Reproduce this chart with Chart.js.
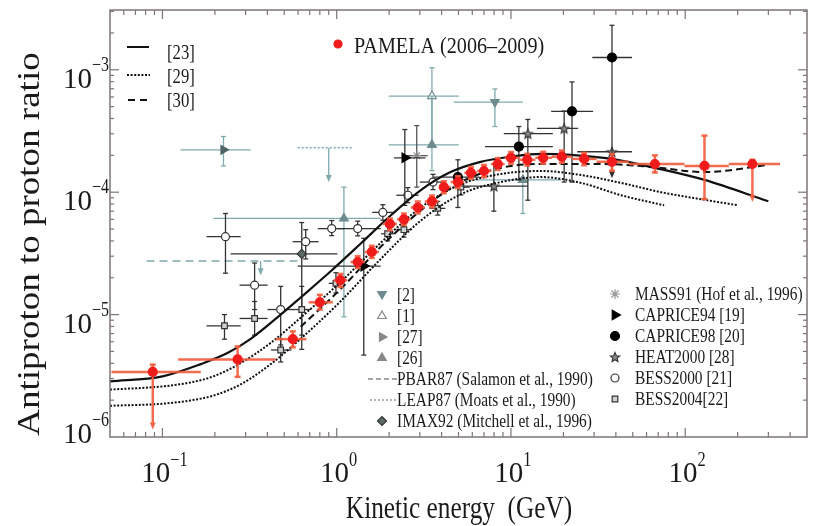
<!DOCTYPE html>
<html>
<head>
<meta charset="utf-8">
<script src="https://cdn.jsdelivr.net/npm/chart.js@4.4.1/dist/chart.umd.min.js"></script>
<style>
  html, body { margin: 0; padding: 0; background: #fff; }
</style>
</head>
<body>
<canvas id="chart" width="821" height="526"></canvas>
<script>
// ---- axis ranges / ticks ----
const xMin = 0.05, xMax = 500;
const yMin = 1e-6, yMax = 3.08e-3;
const xMajor = [0.1, 1, 10, 100];
const xMajorExp = ['\u22121', '0', '1', '2'];
const yMajor = [1e-6, 1e-5, 1e-4, 1e-3];
const yMajorExp = ['\u22126', '\u22125', '\u22124', '\u22123'];

// ---- PAMELA (2006-2009) ----
const pamelaE = [0.088, 0.27, 0.56, 0.80, 1.05, 1.32, 1.59, 2.02, 2.43, 2.92, 3.52, 4.12, 4.96, 5.89, 7.0, 8.4, 10.0, 12.4, 15.3, 19.6, 26.3, 38, 67, 129, 243];
const pamelaR = [3.4e-6, 4.3e-6, 6.3e-6, 1.26e-5, 1.91e-5, 2.69e-5, 3.25e-5, 5.5e-5, 6.0e-5, 7.5e-5, 8.4e-5, 1.10e-4, 1.21e-4, 1.44e-4, 1.49e-4, 1.70e-4, 1.91e-4, 1.84e-4, 1.91e-4, 1.95e-4, 1.87e-4, 1.77e-4, 1.70e-4, 1.64e-4, 1.70e-4];
const pamelaEx = [[0.051, 0.166], [0.123, 0.446], [0.446, 0.67], [0.69, 0.95], [0.96, 1.15], [1.2, 1.45], [1.45, 1.75], [1.84, 2.22], [2.22, 2.66], [2.66, 3.2], [3.2, 3.85], [3.85, 4.5], [4.5, 5.4], [5.4, 6.4], [6.4, 7.7], [7.7, 9.2], [9.2, 11.2], [11.2, 13.8], [13.8, 17.2], [17.2, 22.5], [22.5, 31], [31, 47.5], [47.5, 99], [99, 178], [178, 350]];
const pamelaRy = [[3.4e-6, 3.9e-6], [3.1e-6, 5.5e-6], [5.4e-6, 7.3e-6], [1.1e-5, 1.45e-5], [1.68e-5, 2.15e-5], [2.4e-5, 3.0e-5], [2.9e-5, 3.65e-5], [4.9e-5, 6.1e-5], [5.4e-5, 6.7e-5], [6.7e-5, 8.4e-5], [7.5e-5, 9.4e-5], [9.8e-5, 1.23e-4], [1.08e-4, 1.35e-4], [1.29e-4, 1.61e-4], [1.33e-4, 1.67e-4], [1.52e-4, 1.90e-4], [1.71e-4, 2.13e-4], [1.65e-4, 2.06e-4], [1.71e-4, 2.14e-4], [1.74e-4, 2.19e-4], [1.66e-4, 2.1e-4], [1.5e-4, 2.05e-4], [1.45e-4, 2.0e-4], [8.8e-5, 2.9e-4], [1.7e-4, 1.84e-4]];
const pamelaArrows = [[0.088, 3.4e-6, 1.15e-6], [243, 1.7e-4, 8.3e-5]];

// ---- model curves ----
const m23E = [0.05, 0.1, 0.166, 0.236, 0.321, 0.477, 0.621, 0.924, 1.37, 2.04, 3.04, 4.5, 6.7, 10, 14.9, 22, 38, 67, 129, 300];
const m23R = [2.85e-6, 3.13e-6, 3.94e-6, 4.85e-6, 6.34e-6, 1.0e-5, 1.38e-5, 2.26e-5, 3.79e-5, 6.45e-5, 1.04e-4, 1.46e-4, 1.77e-4, 1.95e-4, 2.06e-4, 2.02e-4, 1.87e-4, 1.58e-4, 1.26e-4, 8.43e-5];
const m29aE = [0.05, 0.1, 0.145, 0.196, 0.281, 0.418, 0.621, 1.05, 1.79, 3.04, 5.16, 8.76, 14.9, 25.3, 42.9, 72.8, 124, 202];
const m29aR = [2.44e-6, 2.59e-6, 2.79e-6, 3.13e-6, 4.01e-6, 5.87e-6, 9.44e-6, 1.84e-5, 3.86e-5, 7.51e-5, 1.16e-4, 1.41e-4, 1.49e-4, 1.38e-4, 1.19e-4, 1.0e-4, 8.75e-5, 7.81e-5];
const m29bE = [0.05, 0.1, 0.145, 0.196, 0.281, 0.418, 0.621, 1.05, 1.79, 3.04, 5.16, 8.76, 14.9, 25.3, 42.9, 75.7];
const m29bR = [1.80e-6, 1.87e-6, 1.99e-6, 2.18e-6, 2.69e-6, 3.94e-6, 6.34e-6, 1.28e-5, 2.85e-5, 5.87e-5, 9.63e-5, 1.21e-4, 1.33e-4, 1.19e-4, 9.44e-5, 7.81e-5];
const m30E = [0.621, 1.05, 1.79, 3.04, 5.16, 8.76, 14.9, 32.9, 63.8, 129, 300];
const m30R = [7.96e-6, 1.61e-5, 3.58e-5, 7.10e-5, 1.21e-4, 1.58e-4, 1.70e-4, 1.70e-4, 1.61e-4, 1.46e-4, 1.67e-4];

// ---- other experiments ----
const bess00E = [0.230, 0.338, 0.477, 0.664, 0.936, 1.32, 1.84, 2.56, 3.57];
const bess00R = [4.33e-5, 1.74e-5, 1.10e-5, 3.94e-5, 5.04e-5, 5.04e-5, 6.84e-5, 9.44e-5, 1.21e-4];
const bess00Ex = [[0.179, 0.281], [0.277, 0.401], [0.401, 0.566], [0.559, 0.788], [0.778, 1.10], [1.01, 1.79], [1.6, 2.1], [2.2, 2.95], [3.0, 4.2]];
const bess00Ry = [[2.18e-5, 6.7e-5], [1.10e-5, 2.64e-5], [5.65e-6, 1.70e-5], [2.85e-5, 4.94e-5], [4.42e-5, 5.87e-5], [4.4e-5, 5.8e-5], [5.9e-5, 7.9e-5], [8.2e-5, 1.09e-4], [1.05e-4, 1.4e-4]];

const bess04E = [0.227, 0.338, 0.477, 0.63, 0.99, 1.96, 2.43, 3.80, 5.16];
const bess04R = [8.1e-6, 9.3e-6, 5.14e-6, 1.10e-5, 1.80e-5, 4.58e-5, 4.94e-5, 7.38e-5, 1.10e-4];
const bess04Ex = [[0.179, 0.281], [0.277, 0.401], [0.42, 0.55], [0.56, 0.71], [0.9, 1.1], [1.8, 2.15], [2.2, 2.7], [3.4, 4.2], [4.6, 5.8]];
const bess04Ry = [[6.3e-6, 1.0e-5], [6.8e-6, 1.28e-5], [4.1e-6, 6.3e-6], [6.8e-6, 1.70e-5], [1.5e-5, 2.2e-5], [4.0e-5, 5.3e-5], [4.3e-5, 5.7e-5], [6.5e-5, 8.4e-5], [9.5e-5, 1.27e-4]];

const imaxE = [0.63], imaxR = [3.13e-5], imaxEx = [[0.246, 1.01]], imaxRy = [[5.2e-6, 5.65e-5]];

const cap94E = [1.43, 2.46], cap94R = [2.49e-5, 1.91e-4];
const cap94Ex = [[0.597, 1.79], [2.13, 3.24]], cap94Ry = [[4.67e-6, 4.2e-5], [7.8e-5, 3.25e-4]];

const cap98E = [4.96, 11.1, 22.4, 38.0], cap98R = [1.33e-4, 2.36e-4, 4.58e-4, 1.26e-3];
const cap98Ex = [[3.6, 6.6], [7.1, 17.4], [17.0, 29.6], [29.3, 49.5]];
const cap98Ry = [[7.5e-5, 1.84e-4], [1.26e-4, 3.44e-4], [1.21e-4, 7.96e-4], [1.74e-4, 2.31e-3]];

const heatE = [7.98, 12.5, 20.2, 38], heatR = [1.12e-4, 3.01e-4, 3.32e-4, 2.14e-4];
const heatEx = [[5.2, 12.5], [9.1, 17.4], [14.1, 24.3], [24, 49.5]];
const heatRy = [[7.0e-5, 1.7e-4], [8.6e-5, 3.93e-4], [1.21e-4, 4.6e-4], [2.14e-4, 2.14e-4]];
const heatArrows = [[38, 2.14e-4, 1.3e-4]];

const massE = [2.88], massR = [1.99e-4], massEx = [[2.49, 3.33]], massRy = [[1.1e-4, 3.5e-4]];

const r26E = [1.10, 3.52, 11.7], r26R = [6.1e-5, 2.44e-4, 1.26e-4];
const r26Ex = [[0.196, 1.79], [1.99, 5.02], [4.70, 19.4]], r26Ry = [[9.6e-6, 1.10e-4], [1.5e-4, 6.1e-4], [6.7e-5, 1.26e-4]];
const r1E = [3.52], r1R = [6.1e-4], r1Ex = [[1.99, 5.02]], r1Ry = [[2.44e-4, 1.04e-3]];
const r2E = [8.09], r2R = [5.45e-4], r2Ex = [[4.70, 11.7]], r2Ry = [[3.44e-4, 6.97e-4]];
const r27E = [0.224], r27R = [2.22e-4], r27Ex = [[0.127, 0.321]], r27Ry = [[1.64e-4, 2.85e-4]];

const pbarE = [0.081, 0.62], pbarR = [2.74e-5, 2.74e-5], pbarArrows = [[0.366, 2.74e-5, 2.1e-5]];
const leapE = [0.597, 1.24], leapR = [2.31e-4, 2.31e-4], leapArrows = [[0.90, 2.31e-4, 1.21e-4]];

// ---- colours ----
const red = '#f01c1c';
const redBar = 'rgba(243, 92, 60, 0.9)';
const dark = '#333333';
const teal = '#7fa9ae';
const tealFill = '#6e8c8f';
const serif = '"Liberation Serif", "Times New Roman", serif';

function pts(E, R) {
    return E.map((e, i) => ({ x: e, y: R[i] }));
}

// small filled 5-point star used for HEAT2000
function starCanvas(r, fill, stroke) {
    const c = document.createElement('canvas');
    const s = Math.ceil(r * 2 + 4);
    c.width = c.height = s;
    const g = c.getContext('2d');
    g.translate(s / 2, s / 2 + 0.5);
    g.beginPath();
    for (let i = 0; i < 10; i++) {
        const a = -Math.PI / 2 + i * Math.PI / 5;
        const rr = i % 2 ? r * 0.45 : r;
        g.lineTo(rr * Math.cos(a), rr * Math.sin(a));
    }
    g.closePath();
    g.fillStyle = fill;
    g.fill();
    g.strokeStyle = stroke;
    g.lineWidth = 1.1;
    g.stroke();
    return c;
}
const heatStar = starCanvas(5, '#8a8a8a', '#333');

function curve(E, R, dash, width) {
    return {
        data: pts(E, R), showLine: true, pointRadius: 0,
        borderColor: '#111', borderWidth: width, borderDash: dash,
        cubicInterpolationMode: 'monotone', fill: false
    };
}

function markers(E, R, o) {
    return Object.assign({
        data: pts(E, R), showLine: false,
        pointRadius: 4, pointBorderWidth: 1.2, pointRotation: 0
    }, o);
}

const datasets = [
    markers(pamelaE, pamelaR, { pointStyle: 'circle', pointRadius: 4.5, backgroundColor: red, borderColor: red,
        xErr: pamelaEx, yErr: pamelaRy, arrows: pamelaArrows, errColor: redBar, errWidth: 2.5, capSize: 3 }),
    curve(m23E, m23R, [], 2.2),
    curve(m30E, m30R, [7, 4], 2),
    curve(m29aE, m29aR, [2, 1.6], 2),
    curve(m29bE, m29bR, [2, 1.6], 2),
    markers(cap98E, cap98R, { pointStyle: 'circle', pointRadius: 4.5, backgroundColor: '#000', borderColor: '#000',
        xErr: cap98Ex, yErr: cap98Ry, errColor: dark }),
    markers(cap94E, cap94R, { pointStyle: 'triangle', pointRotation: 90, pointRadius: 5.5, backgroundColor: '#000', borderColor: '#000',
        xErr: cap94Ex, yErr: cap94Ry, errColor: dark }),
    markers(heatE, heatR, { pointStyle: heatStar, xErr: heatEx, yErr: heatRy, arrows: heatArrows, errColor: dark }),
    markers(bess00E, bess00R, { pointStyle: 'circle', backgroundColor: '#fff', borderColor: '#333',
        xErr: bess00Ex, yErr: bess00Ry, errColor: dark }),
    markers(bess04E, bess04R, { pointStyle: 'rect', backgroundColor: '#cfd3d3', borderColor: '#333',
        xErr: bess04Ex, yErr: bess04Ry, errColor: dark }),
    markers(imaxE, imaxR, { pointStyle: 'rectRot', pointRadius: 4.5, backgroundColor: '#5d6b68', borderColor: '#333',
        xErr: imaxEx, yErr: imaxRy, errColor: dark }),
    markers(massE, massR, { pointStyle: 'star', pointRadius: 4.5, backgroundColor: '#888', borderColor: '#888',
        xErr: massEx, yErr: massRy, errColor: '#555' }),
    markers(r26E, r26R, { pointStyle: 'triangle', pointRadius: 5, backgroundColor: tealFill, borderColor: tealFill,
        xErr: r26Ex, yErr: r26Ry, errColor: teal }),
    markers(r1E, r1R, { pointStyle: 'triangle', pointRadius: 5, backgroundColor: '#fff', borderColor: tealFill,
        xErr: r1Ex, yErr: r1Ry, errColor: teal }),
    markers(r2E, r2R, { pointStyle: 'triangle', pointRotation: 180, pointRadius: 5, backgroundColor: tealFill, borderColor: tealFill,
        xErr: r2Ex, yErr: r2Ry, errColor: teal }),
    markers(r27E, r27R, { pointStyle: 'triangle', pointRotation: 90, pointRadius: 5, backgroundColor: '#4f6466', borderColor: '#4f6466',
        xErr: r27Ex, yErr: r27Ry, errColor: teal }),
    { data: pts(pbarE, pbarR), showLine: true, pointRadius: 0, borderColor: teal, borderWidth: 1.6, borderDash: [8, 5],
        arrows: pbarArrows, errColor: teal },
    { data: pts(leapE, leapR), showLine: true, pointRadius: 0, borderColor: teal, borderWidth: 1.6, borderDash: [2, 2],
        arrows: leapArrows, errColor: teal }
];

// error bars + upper-limit arrows, drawn just before each dataset's own marks
const errorBars = {
    id: 'errorBars',
    beforeDatasetDraw(chart, args) {
        const ds = chart.data.datasets[args.index];
        if (!ds.xErr && !ds.yErr && !ds.arrows) return;
        const { ctx, scales: { x, y } } = chart;
        const cap = ds.capSize ?? 2.5;
        ctx.save();
        ctx.beginPath();
        ctx.rect(chart.chartArea.left, chart.chartArea.top, chart.chartArea.width, chart.chartArea.height);
        ctx.clip();
        ctx.strokeStyle = ds.errColor || dark;
        ctx.fillStyle = ds.errColor || dark;
        ctx.lineWidth = ds.errWidth || 1.3;
        ctx.setLineDash([]);
        const seg = (x0, y0, x1, y1) => { ctx.beginPath(); ctx.moveTo(x0, y0); ctx.lineTo(x1, y1); ctx.stroke(); };
        ds.data.forEach((p, i) => {
            const px = x.getPixelForValue(p.x), py = y.getPixelForValue(p.y);
            if (ds.xErr) {
                const xa = x.getPixelForValue(ds.xErr[i][0]), xb = x.getPixelForValue(ds.xErr[i][1]);
                seg(xa, py, xb, py);
            }
            if (ds.yErr) {
                const ya = y.getPixelForValue(ds.yErr[i][0]), yb = y.getPixelForValue(ds.yErr[i][1]);
                seg(px, ya, px, yb);
                if (Math.abs(ya - py) > 2) seg(px - cap, ya, px + cap, ya);
                if (Math.abs(yb - py) > 2) seg(px - cap, yb, px + cap, yb);
            }
        });
        (ds.arrows || []).forEach(([e, r0, r1]) => {
            const px = x.getPixelForValue(e), y0 = y.getPixelForValue(r0), y1 = y.getPixelForValue(r1);
            seg(px, y0, px, y1 - 5);
            ctx.beginPath();
            ctx.moveTo(px - 3, y1 - 7);
            ctx.lineTo(px + 3, y1 - 7);
            ctx.lineTo(px, y1);
            ctx.closePath();
            ctx.fill();
        });
        ctx.restore();
    }
};

function drawText(ctx, str, x, y, size, o = {}) {
    ctx.save();
    ctx.font = (o.weight || 'normal') + ' ' + size + 'px ' + serif;
    ctx.fillStyle = o.color || '#1a1a1a';
    ctx.textAlign = o.align || 'left';
    ctx.textBaseline = 'alphabetic';
    ctx.translate(x, y);
    if (o.rotate) ctx.rotate(o.rotate);
    ctx.scale(o.sx || 1, o.sy || 1);
    ctx.fillText(str, 0, 0);
    ctx.restore();
}

function textWidth(ctx, str, size, sx) {
    ctx.save();
    ctx.font = size + 'px ' + serif;
    const w = ctx.measureText(str).width * (sx || 1);
    ctx.restore();
    return w;
}

function legendMark(ctx, style, x, y, fill, stroke, radius, rotation) {
    ctx.save();
    ctx.fillStyle = fill;
    ctx.strokeStyle = stroke;
    ctx.lineWidth = 1.2;
    ctx.setLineDash([]);
    Chart.helpers.drawPoint(ctx, { pointStyle: style, radius: radius, rotation: rotation || 0, borderWidth: 1.2 }, x, y);
    ctx.restore();
}

function legendLine(ctx, x0, x1, y, color, dash, width) {
    ctx.save();
    ctx.strokeStyle = color;
    ctx.lineWidth = width;
    ctx.setLineDash(dash);
    ctx.beginPath();
    ctx.moveTo(x0, y);
    ctx.lineTo(x1, y);
    ctx.stroke();
    ctx.restore();
}

// frame, inward ticks, power-of-ten labels, titles and legends
const frame = {
    id: 'frame',
    afterDraw(chart) {
        const { ctx, chartArea: a, scales: { x, y } } = chart;
        ctx.save();
        ctx.strokeStyle = '#7d7575';
        ctx.lineWidth = 1.5;
        ctx.strokeRect(a.left, a.top, a.right - a.left, a.bottom - a.top);

        ctx.lineWidth = 1.2;
        const tick = (x0, y0, x1, y1) => { ctx.beginPath(); ctx.moveTo(x0, y0); ctx.lineTo(x1, y1); ctx.stroke(); };
        [0.01, 0.1, 1, 10, 100].forEach(d => {
            for (let k = 1; k <= 9; k++) {
                const v = d * k;
                if (v <= xMin || v >= xMax) continue;
                const px = x.getPixelForValue(v), len = k === 1 ? 9 : 5;
                tick(px, a.bottom, px, a.bottom - len);
                tick(px, a.top, px, a.top + len);
            }
        });
        [1e-6, 1e-5, 1e-4, 1e-3].forEach(d => {
            for (let k = 1; k <= 9; k++) {
                const v = d * k;
                if (v <= yMin || v >= yMax) continue;
                const py = y.getPixelForValue(v), len = k === 1 ? 9 : 4;
                tick(a.left, py, a.left + len, py);
                tick(a.right, py, a.right - len, py);
            }
        });
        ctx.restore();

        // x tick labels
        xMajor.forEach((v, i) => {
            const px = x.getPixelForValue(v);
            const wb = textWidth(ctx, '10', 29), we = textWidth(ctx, xMajorExp[i], 20, 0.82);
            const start = px + 2 - (wb + we) / 2;
            drawText(ctx, '10', start, 482, 29);
            drawText(ctx, xMajorExp[i], start + wb, 466, 20, { sx: 0.82 });
        });
        // y tick labels
        yMajor.forEach((v, i) => {
            const py = y.getPixelForValue(v);
            const base = Math.min(py + 18, 443);
            drawText(ctx, '10', 92, base, 29, { align: 'right' });
            drawText(ctx, yMajorExp[i], 92, base - 17, 20, { sx: 0.8 });
        });

        // axis titles
        drawText(ctx, 'Kinetic energy  (GeV)', 459, 518, 32, { align: 'center', sx: 0.79 });
        drawText(ctx, 'Antiproton to proton ratio', 39, 244, 37, { align: 'center', rotate: -Math.PI / 2, sy: 0.88 });

        // model legend (top left)
        legendLine(ctx, 127, 149, 47, '#111', [], 2);
        legendLine(ctx, 127, 150, 75, '#111', [2, 1.6], 2);
        legendLine(ctx, 128, 149, 100, '#111', [7, 5], 2);
        drawText(ctx, '[23]', 167, 59, 22, { sx: 0.76 });
        drawText(ctx, '[29]', 167, 83, 22, { sx: 0.76 });
        drawText(ctx, '[30]', 167, 107, 22, { sx: 0.76 });

        // PAMELA label
        legendMark(ctx, 'circle', 338, 44, red, red, 4);
        drawText(ctx, 'PAMELA (2006\u20132009)', 354, 53, 24, { sx: 0.84 });

        // middle legend
        const midB = [301, 322, 343, 364, 385, 406, 427];
        legendMark(ctx, 'triangle', 382, midB[0] - 7, tealFill, tealFill, 5, 180);
        legendMark(ctx, 'triangle', 382, midB[1] - 6, '#fff', '#888', 5, 0);
        legendMark(ctx, 'triangle', 382, midB[2] - 6, '#888', '#888', 5, 90);
        legendMark(ctx, 'triangle', 382, midB[3] - 6, '#888', '#888', 5, 0);
        legendLine(ctx, 368, 397, midB[4] - 6, '#888', [5, 3], 1.3);
        legendLine(ctx, 383, 383, midB[4] - 9, '#888', [], 1.3);
        legendLine(ctx, 383, 383, midB[4] - 3, '#888', [], 1.3);
        legendLine(ctx, 370, 396, midB[5] - 6, '#999', [2, 2], 1.3);
        legendLine(ctx, 383, 383, midB[5] - 9, '#999', [], 1.3);
        legendLine(ctx, 383, 383, midB[5] - 3, '#999', [], 1.3);
        legendMark(ctx, 'rectRot', 382, midB[6] - 6, '#5d6b68', '#333', 4.5);
        const midT = ['[2]', '[1]', '[27]', '[26]', 'PBAR87 (Salamon et al., 1990)', 'LEAP87 (Moats et al., 1990)', 'IMAX92 (Mitchell et al., 1996)'];
        midT.forEach((t, i) => drawText(ctx, t, 397, midB[i], 19, { sx: 0.81 }));

        // right legend
        const rB = [300, 321, 342, 363, 384, 405];
        legendMark(ctx, 'star', 615, rB[0] - 6, '#999', '#999', 5);
        legendMark(ctx, 'triangle', 615, rB[1] - 6, '#000', '#000', 5.5, 90);
        legendMark(ctx, 'circle', 615, rB[2] - 6, '#000', '#000', 4.5);
        legendMark(ctx, heatStar, 615, rB[3] - 6, '#888', '#333', 5);
        legendMark(ctx, 'circle', 615, rB[4] - 6, '#fff', '#333', 4);
        legendMark(ctx, 'rect', 615, rB[5] - 6, '#cfd3d3', '#333', 4);
        const rT = ['MASS91 (Hof et al., 1996)', 'CAPRICE94 [19]', 'CAPRICE98 [20]', 'HEAT2000 [28]', 'BESS2000 [21]', 'BESS2004[22]'];
        rT.forEach((t, i) => drawText(ctx, t, 635, rB[i], 19, { sx: 0.81 }));
    }
};

const chart = new Chart(document.getElementById('chart').getContext('2d'), {
    type: 'scatter',
    data: { datasets: datasets },
    options: {
        responsive: false,
        animation: false,
        layout: { padding: { top: 10, right: 14, left: 0, bottom: 0 } },
        plugins: { legend: { display: false }, tooltip: { enabled: false } },
        scales: {
            x: {
                type: 'logarithmic', min: xMin, max: xMax,
                ticks: { display: false }, grid: { display: false }, border: { display: false },
                afterFit: s => { s.height = 89; }
            },
            y: {
                type: 'logarithmic', min: yMin, max: yMax,
                ticks: { display: false }, grid: { display: false }, border: { display: false },
                afterFit: s => { s.width = 110; }
            }
        }
    },
    plugins: [errorBars, frame]
});
</script>
</body>
</html>
